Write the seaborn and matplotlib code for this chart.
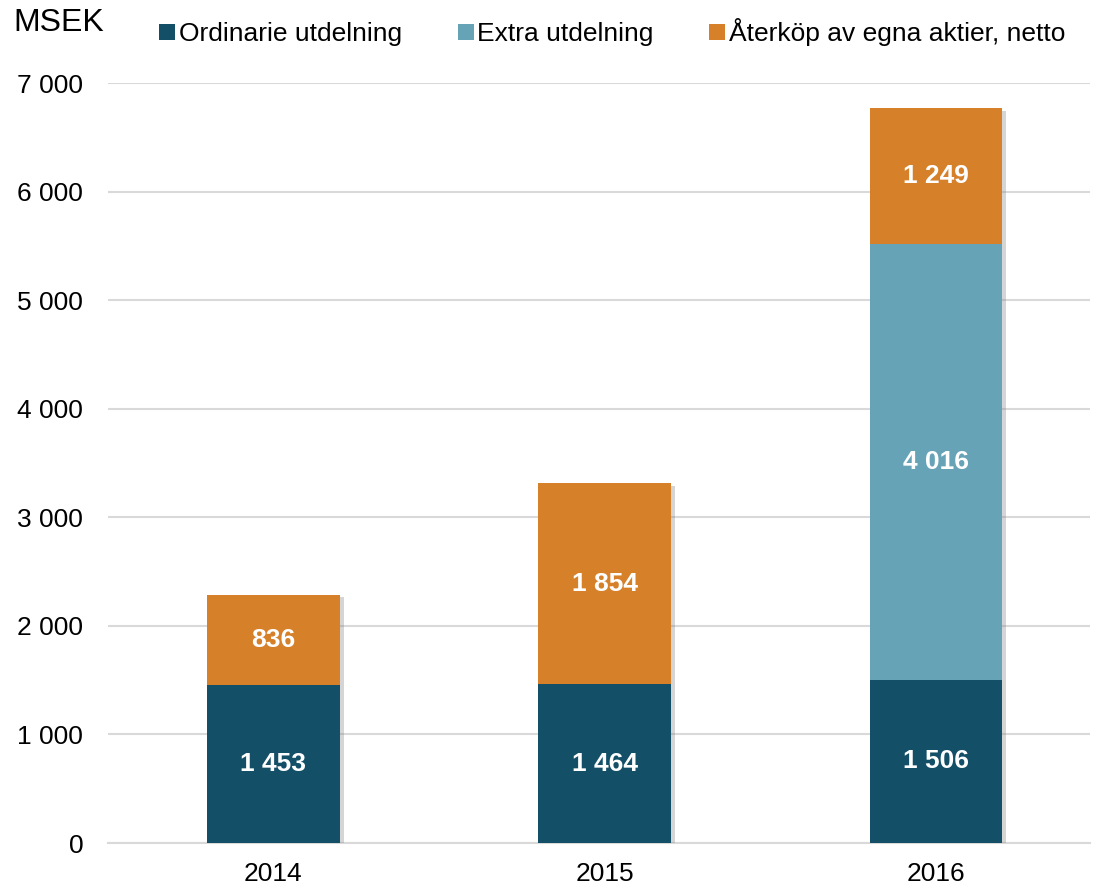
import pandas as pd
import matplotlib
matplotlib.use("Agg")
import matplotlib.pyplot as plt
import matplotlib.patheffects as pe
from matplotlib.ticker import FuncFormatter
from matplotlib.lines import Line2D
import seaborn as sns

# Data (MSEK)
years = ["2014", "2015", "2016"]
ordinarie = [1453, 1464, 1506]
extra = [0, 0, 4016]
aterkop = [836, 1854, 1249]

series_names = ["Ordinarie utdelning", "Extra utdelning", "Återköp av egna aktier, netto"]
colors = ["#134f66", "#67a3b7", "#d6812a"]


def tusental(v, pos=None):
    return f"{int(round(v)):,}".replace(",", " ")


def plot_utdelning():
    df = pd.DataFrame({"År": years, "ord": ordinarie, "extra": extra, "ater": aterkop})
    df["lvl1"] = df["ord"]
    df["lvl2"] = df["ord"] + df["extra"]
    df["lvl3"] = df["lvl2"] + df["ater"]

    sns.set_theme(style="white")
    plt.rcParams["font.family"] = ["Liberation Sans", "DejaVu Sans"]
    plt.rcParams["text.color"] = "black"

    fig = plt.figure(figsize=(10.93, 8.86), dpi=100)
    ax = fig.add_axes([0.099, 0.0485, 0.898, 0.8575])

    # stacked by overlaying cumulative totals, tallest first
    sns.barplot(data=df, x="År", y="lvl3", color=colors[2], width=0.40,
                saturation=1, ax=ax, zorder=3)
    for p in ax.patches:
        p.set_path_effects([pe.SimplePatchShadow(offset=(3, -2), alpha=0.3, shadow_rgbFace="#777777"),
                            pe.Normal()])
    sns.barplot(data=df, x="År", y="lvl2", color=colors[1], width=0.40,
                saturation=1, ax=ax, zorder=3)
    sns.barplot(data=df, x="År", y="lvl1", color=colors[0], width=0.40,
                saturation=1, ax=ax, zorder=3)
    for p in ax.patches:
        p.set_linewidth(0)

    # segment labels
    for i in range(len(years)):
        segs = [(0, ordinarie[i]), (ordinarie[i], extra[i]),
                (ordinarie[i] + extra[i], aterkop[i])]
        for base, val in segs:
            if val > 0:
                ax.text(i, base + val / 2, tusental(val), ha="center", va="center",
                        color="white", fontsize=19, fontweight="bold", zorder=5)

    ax.set_xlim(-0.498, 2.464)
    ax.set_ylim(0, 7000)
    ax.set_yticks(range(0, 7001, 1000))
    ax.yaxis.set_major_formatter(FuncFormatter(tusental))
    ax.yaxis.grid(True, color="#d9d9d9", linewidth=1.5, zorder=0)
    ax.set_axisbelow(True)
    ax.tick_params(axis="y", length=0, pad=18, labelsize=19, colors="black")
    ax.tick_params(axis="x", length=0, pad=14, labelsize=19, colors="black")
    ax.set_xlabel("")
    ax.set_ylabel("")
    for s in ["left", "right", "top"]:
        ax.spines[s].set_visible(False)
    ax.spines["bottom"].set_color("#d9d9d9")
    ax.spines["bottom"].set_linewidth(1.5)

    handles = [Line2D([0], [0], marker="s", linestyle="", markersize=11,
                      markerfacecolor=c, markeredgewidth=0) for c in colors]
    fig.legend(handles, series_names, loc="center", bbox_to_anchor=(0.559, 0.964),
               ncol=3, frameon=False, fontsize=19, handletextpad=0.05,
               columnspacing=2.0, handlelength=0.8, labelcolor="black")

    fig.text(0.012, 0.974, "MSEK", fontsize=23, ha="left", va="center", color="black")

    fig.savefig("out.png", dpi=100)


if __name__ == "__main__":
    plot_utdelning()
